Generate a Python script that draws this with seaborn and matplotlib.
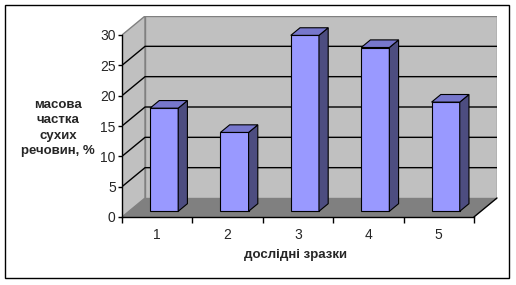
import numpy as np
import pandas as pd
import matplotlib
matplotlib.use("Agg")
import matplotlib.pyplot as plt
import matplotlib.transforms as mtransforms
from matplotlib.patches import Polygon, Rectangle
import seaborn as sns

categories = ["1", "2", "3", "4", "5"]
values = [17, 13, 29, 27, 18]
y_ticks = [0, 5, 10, 15, 20, 25, 30]
x_label = "дослідні зразки"
y_label = "масова\nчастка\nсухих\nречовин, %"

sns.set_style("white")
plt.rcParams["font.family"] = ["Liberation Sans", "DejaVu Sans"]

FRONT = "#9999FF"
SIDE = "#4D4D80"
TOP = "#7777CC"
WALL = "#C0C0C0"
FLOOR = "#808080"

fig = plt.figure(figsize=(5.16, 2.85), dpi=100)
W, H = 516, 285
ax = fig.add_axes([122 / W, 1 - 217 / H, (497 - 122) / W, (217 - 16) / H])

ymax = 30
ddx = 23 / (351 / 5)
ddy = 19 / (182 / 30)
x0, x1 = -0.5, len(categories) - 0.5

# walls and floor
ax.add_patch(Polygon([(x0, 0), (x0, ymax), (x0 + ddx, ymax + ddy), (x0 + ddx, ddy)],
                     closed=True, facecolor=WALL, edgecolor=FLOOR, lw=1, zorder=0))
ax.add_patch(Polygon([(x0 + ddx, ddy), (x0 + ddx, ymax + ddy), (x1 + ddx, ymax + ddy), (x1 + ddx, ddy)],
                     closed=True, facecolor=WALL, edgecolor=FLOOR, lw=1, zorder=0))
ax.add_patch(Polygon([(x0, 0), (x1, 0), (x1 + ddx, ddy), (x0 + ddx, ddy)],
                     closed=True, facecolor=FLOOR, edgecolor="none", zorder=0.5))
ax.plot([x1, x1 + ddx], [0, ddy], color="black", lw=1, zorder=0.6, clip_on=False)
for v in y_ticks[1:-1]:
    ax.plot([x0, x0 + ddx, x1 + ddx], [v, v + ddy, v + ddy], color="black", lw=1, zorder=0.7)

df = pd.DataFrame({"sample": categories, "value": values})
sns.barplot(data=df, x="sample", y="value", order=categories, color=FRONT, saturation=1,
            width=0.4, edgecolor="black", linewidth=0.8, ax=ax, zorder=3)

s, e = 0.3, 0.7
bar_rects = [p for p in ax.patches if isinstance(p, Rectangle)]
for p in bar_rects:
    bx, bw, bh = p.get_x(), p.get_width(), p.get_height()
    p.set_x(bx + s * ddx)
    p.set_y(s * ddy)
    L, R = bx + s * ddx, bx + bw + s * ddx
    b0, t0 = s * ddy, bh + s * ddy
    dx, dy = (e - s) * ddx, (e - s) * ddy
    ax.add_patch(Polygon([(R, b0), (R, t0), (R + dx, t0 + dy), (R + dx, b0 + dy)], closed=True,
                         facecolor=SIDE, edgecolor="black", lw=0.8, zorder=3))
    ax.add_patch(Polygon([(L, t0), (R, t0), (R + dx, t0 + dy), (L + dx, t0 + dy)], closed=True,
                         facecolor=TOP, edgecolor="black", lw=0.8, zorder=3))

ax.set_xlim(x0, x1 + ddx)
ax.set_ylim(0, ymax + ddy)
for sp in ["top", "right"]:
    ax.spines[sp].set_visible(False)
ax.spines["left"].set_bounds(0, ymax)
ax.spines["bottom"].set_bounds(x0, x1)
for sp in ["left", "bottom"]:
    ax.spines[sp].set_color("black")
    ax.spines[sp].set_linewidth(1)
    ax.spines[sp].set_zorder(5)

ax.set_yticks(y_ticks)
ax.set_yticklabels([str(t) for t in y_ticks], fontsize=10)
ax.set_xticks(range(len(categories)))
ax.set_xticklabels(categories, fontsize=10)
ax.set_xticks(np.arange(x0, x1 + 0.01, 1.0), minor=True)
ax.tick_params(axis="y", which="major", left=True, length=3, width=1, color="black", pad=1.5)
ax.tick_params(axis="x", which="major", bottom=True, length=0, pad=8)
ax.tick_params(axis="x", which="minor", bottom=True, length=4, width=1, color="black")
ax.set_xlabel("")
ax.set_ylabel("")

fig.text(296 / W, 1 - 255 / H, x_label, ha="center", va="center", fontsize=9.5, fontweight="bold")
fig.text(58 / W, 1 - 128 / H, y_label, ha="center", va="center", fontsize=9.5, fontweight="bold",
         multialignment="center", linespacing=1.4)

fig.patches.append(Rectangle((5 / W, 1 - 278 / H), 504 / W, 273 / H, transform=fig.transFigure,
                             facecolor="none", edgecolor="black", lw=1, zorder=10))

fig.savefig("out.png", dpi=100, facecolor="white")
